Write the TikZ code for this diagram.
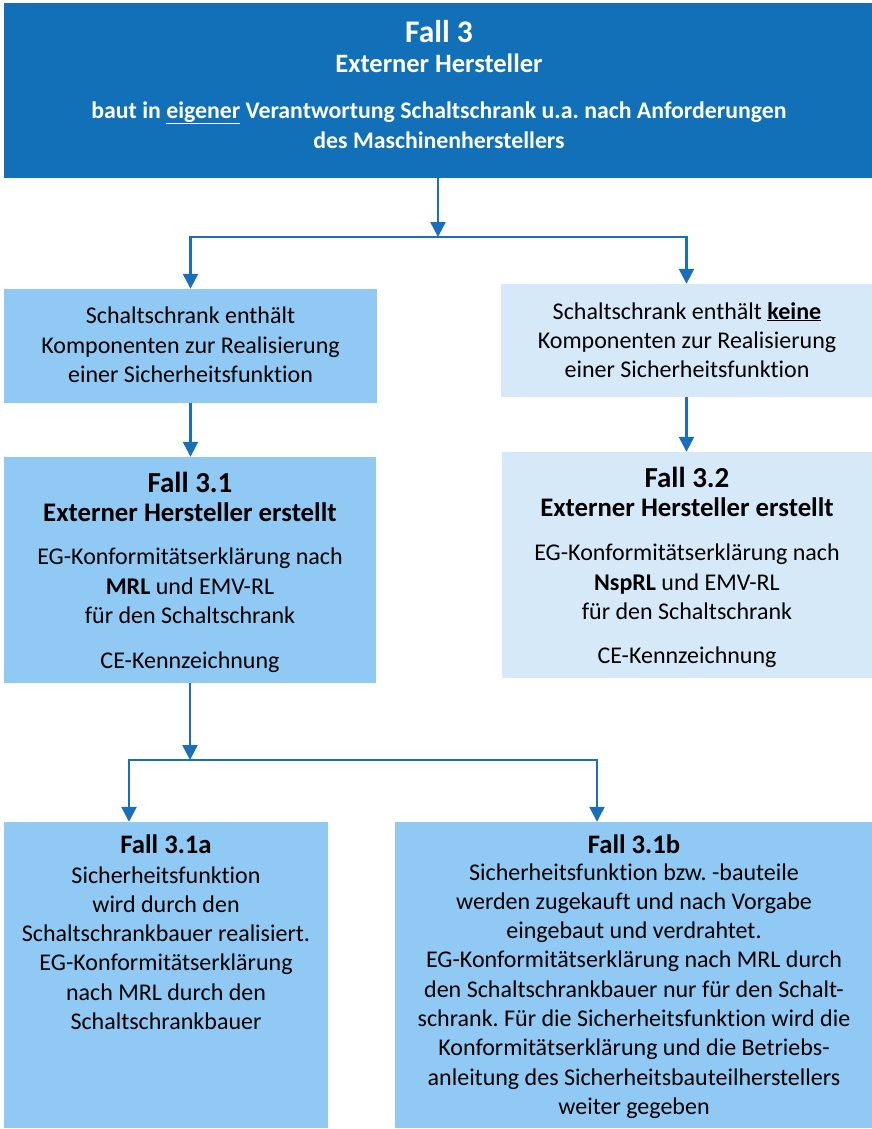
\documentclass[tikz,border=0pt]{standalone}
\usepackage{fontspec}
\setmainfont{Carlito}[Ligatures=NoCommon]
\frenchspacing
\usetikzlibrary{arrows.meta, positioning}
\definecolor{fallblue}{HTML}{1270B8}
\definecolor{arrowblue}{HTML}{1A6FBD}
\definecolor{midblue}{HTML}{90C9F3}
\definecolor{paleblue}{HTML}{D6E9F8}

\tikzset{
  box/.style={rectangle, inner sep=0pt, draw=none},
  arr/.style={arrowblue, line width=2.5pt, -{Triangle[width=15pt, length=15pt]}},
  head/.style={font=\fontsize{29}{35}\selectfont\bfseries, inner sep=0pt},
  sub/.style={font=\fontsize{26.8}{31}\selectfont\bfseries, inner sep=0pt},
  body/.style={font=\fontsize{24}{29.3}\selectfont, align=center, inner sep=0pt},
}

\begin{document}
\begin{tikzpicture}[x=1pt, y=-1pt]
    \useasboundingbox (0,0) rectangle (872,1129);

    % ---- FALL 3 ----
    \node[box, fill=fallblue, minimum width=868pt, minimum height=175pt] (fall3) at (438,90.5) {};
    \node[head, text=white, font=\fontsize{31.5}{36}\selectfont\bfseries] (fall3head) at (439,32) {Fall 3};
    \node[sub, text=white, font=\fontsize{26.5}{31}\selectfont\bfseries] (fall3sub) at (439,63) {Externer Hersteller};
    \node[body, text=white, font=\fontsize{23.8}{30}\selectfont\bfseries] (fall3text) at (439,125)
        {baut in \underline{eigener} Verantwortung Schaltschrank u.a. nach Anforderungen\\des Maschinenherstellers};

    % ---- ZWEIG LINKS / RECHTS ----
    \node[box, fill=midblue, minimum width=373pt, minimum height=114pt] (mitsf) at (190.5,346) {};
    \node[body] (mitsftext) at (190.5,345)
        {Schaltschrank enthält\\Komponenten zur Realisierung\\einer Sicherheitsfunktion};
    \node[box, fill=paleblue, minimum width=371pt, minimum height=113pt] (ohnesf) at (686.5,340.5) {};
    \node[body] (ohnesftext) at (687,340)
        {Schaltschrank enthält \textbf{\underline{keine}}\\Komponenten zur Realisierung\\einer Sicherheitsfunktion};

    % ---- FALL 3.1 ----
    \node[box, fill=midblue, minimum width=372pt, minimum height=226pt] (fall31) at (190,570) {};
    \node[head] (fall31head) at (190,482) {Fall 3.1};
    \node[sub] (fall31sub) at (190,512) {Externer Hersteller erstellt};
    \node[body] (fall31text) at (190,586)
        {EG-Konformitätserklärung nach\\\textbf{MRL} und EMV-RL\\für den Schaltschrank};
    \node[body] (fall31ce) at (190,662) {CE-Kennzeichnung};

    % ---- FALL 3.2 ----
    \node[box, fill=paleblue, minimum width=370pt, minimum height=226pt] (fall32) at (687,565) {};
    \node[head] (fall32head) at (687,477) {Fall 3.2};
    \node[sub] (fall32sub) at (687,507) {Externer Hersteller erstellt};
    \node[body] (fall32text) at (687,582)
        {EG-Konformitätserklärung nach\\\textbf{NspRL} und EMV-RL\\für den Schaltschrank};
    \node[body] (fall32ce) at (687,657) {CE-Kennzeichnung};

    % ---- FALL 3.1a / 3.1b ----
    \node[box, fill=midblue, minimum width=324pt, minimum height=306pt] (fall31a) at (166,975) {};
    \node[head, font=\fontsize{26.7}{31}\selectfont\bfseries] (fall31ahead) at (166,844) {Fall 3.1a};
    \node[body] (fall31atext) at (166,948)
        {Sicherheitsfunktion\\wird durch den\\Schaltschrankbauer realisiert.\\EG-Konformitätserklärung\\nach MRL durch den\\Schaltschrankbauer};
    \node[box, fill=midblue, minimum width=477pt, minimum height=306pt] (fall31b) at (633.5,975) {};
    \node[head, font=\fontsize{26.7}{31}\selectfont\bfseries] (fall31bhead) at (634,844) {Fall 3.1b};
    \node[body] (fall31btext) at (634,991)
        {Sicherheitsfunktion bzw. -bauteile\\werden zugekauft und nach Vorgabe\\eingebaut und verdrahtet.\\EG-Konformitätserklärung nach MRL durch\\den Schaltschrankbauer nur für den Schalt-\\schrank. Für die Sicherheitsfunktion wird die\\Konformitätserklärung und die Betriebs-\\anleitung des Sicherheitsbauteilherstellers\\weiter gegeben};

    % ---- PFEILE ----
    \coordinate (split1) at (438,237);
    \coordinate (split2) at (190,760);
    \draw[arr] (fall3.south) -- (split1);
    \draw[arr] (split1) -| (mitsf.north);
    \draw[arr] (split1) -| (ohnesf.north);
    \draw[arr] (mitsf.south) -- (mitsf.south |- fall31.north);
    \draw[arr] (ohnesf.south) -- (ohnesf.south |- fall32.north);
    \draw[arr] (fall31.south) -- (split2);
    \draw[arr] (split2) -| ([xshift=-37pt]fall31a.north);
    \draw[arr] (split2) -| ([xshift=-36.5pt]fall31b.north);
\end{tikzpicture}
\end{document}
